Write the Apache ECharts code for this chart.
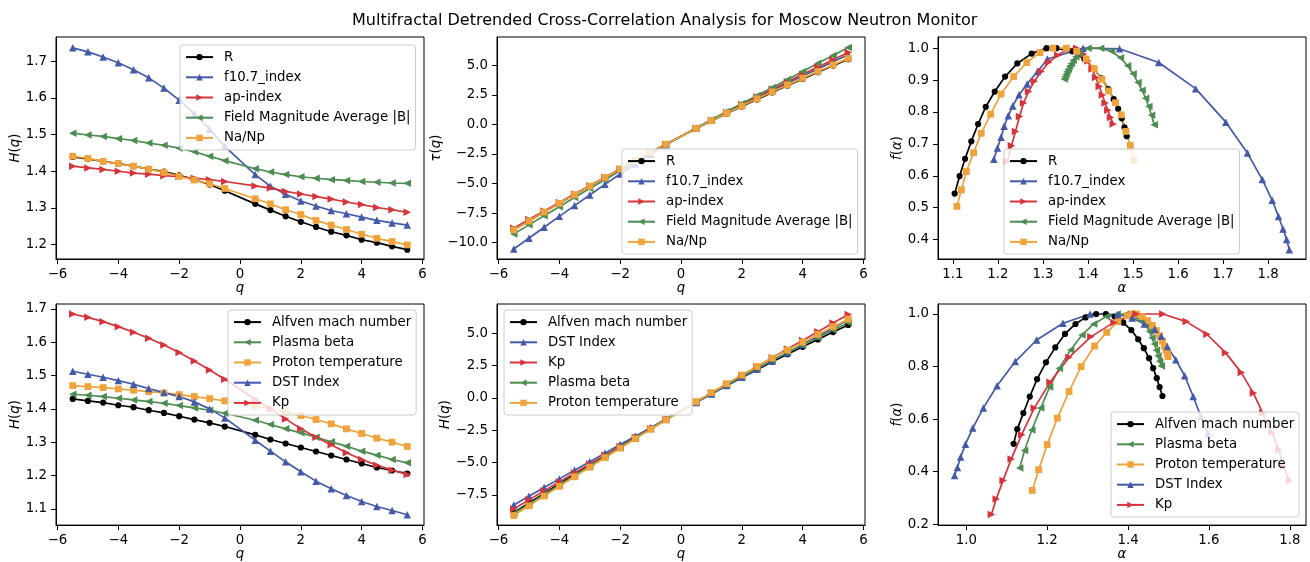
<!DOCTYPE html>
<html><head><meta charset="utf-8">
<script src="https://cdn.jsdelivr.net/npm/echarts@6/dist/echarts.min.js"></script>
<style>html,body{margin:0;padding:0;background:#fff}#c{width:1310px;height:562px}</style>
</head><body><div id="c"></div>
<script>
// ---------- DATA ----------
const q = [-5.5,-5,-4.5,-4,-3.5,-3,-2.5,-2,-1.5,-1,-0.5,0.5,1,1.5,2,2.5,3,3.5,4,4.5,5,5.5];

// Top-left: H(q)
const H_R      = [1.439,1.434,1.427,1.421,1.414,1.406,1.399,1.389,1.377,1.364,1.347,1.311,1.294,1.277,1.262,1.248,1.235,1.225,1.213,1.205,1.195,1.186];
const H_f107   = [1.737,1.726,1.712,1.696,1.677,1.655,1.627,1.594,1.557,1.515,1.468,1.391,1.359,1.337,1.319,1.305,1.293,1.284,1.275,1.266,1.259,1.253];
const H_ap     = [1.414,1.409,1.405,1.400,1.395,1.392,1.388,1.385,1.381,1.377,1.372,1.360,1.354,1.345,1.338,1.331,1.324,1.316,1.309,1.301,1.295,1.288];
const H_field  = [1.504,1.499,1.495,1.489,1.484,1.477,1.471,1.463,1.453,1.441,1.429,1.407,1.398,1.391,1.385,1.381,1.377,1.375,1.372,1.370,1.368,1.367];
const H_nanp   = [1.441,1.435,1.427,1.421,1.414,1.406,1.397,1.386,1.376,1.366,1.353,1.325,1.311,1.295,1.282,1.266,1.253,1.241,1.228,1.217,1.208,1.199];

// Top-middle: tau(q)
const T_R      = [-8.91,-8.17,-7.42,-6.68,-5.95,-5.22,-4.50,-3.78,-3.07,-2.36,-1.67,-0.34,0.29,0.92,1.52,2.12,2.71,3.29,3.85,4.42,4.98,5.52];
const T_f107   = [-10.54,-9.63,-8.70,-7.78,-6.87,-5.97,-5.07,-4.19,-3.34,-2.52,-1.73,-0.30,0.36,1.01,1.64,2.26,2.88,3.49,4.10,4.70,5.30,5.89];
const T_ap     = [-8.78,-8.05,-7.32,-6.60,-5.88,-5.18,-4.47,-3.77,-3.07,-2.38,-1.69,-0.32,0.35,1.02,1.68,2.33,2.97,3.61,4.24,4.85,5.48,6.08];
const T_field  = [-9.27,-8.50,-7.73,-6.96,-6.19,-5.43,-4.68,-3.93,-3.18,-2.44,-1.71,-0.30,0.40,1.09,1.77,2.45,3.13,3.81,4.49,5.17,5.84,6.52];
const T_nanp   = [-8.93,-8.18,-7.42,-6.68,-5.95,-5.22,-4.49,-3.77,-3.06,-2.37,-1.68,-0.34,0.31,0.94,1.56,2.17,2.76,3.34,3.91,4.48,5.04,5.59];

// Top-right: f(alpha) (points ordered from the left end to the right end)
const A_R      = [1.104,1.115,1.127,1.141,1.156,1.173,1.193,1.216,1.243,1.275,1.308,1.330,1.365,1.392,1.413,1.430,1.445,1.457,1.467,1.475,1.481,1.486];
const F_R      = [0.544,0.599,0.653,0.708,0.762,0.816,0.864,0.911,0.952,0.983,1.000,1.000,0.990,0.966,0.936,0.905,0.872,0.840,0.810,0.780,0.752,0.724];
const A_f107   = [1.191,1.199,1.207,1.214,1.223,1.233,1.247,1.265,1.288,1.310,1.389,1.470,1.557,1.639,1.706,1.754,1.787,1.809,1.823,1.833,1.841,1.847];
const F_f107   = [0.652,0.687,0.721,0.755,0.788,0.819,0.854,0.888,0.927,0.966,1.000,0.998,0.955,0.873,0.768,0.671,0.588,0.523,0.472,0.433,0.400,0.368];
const A_ap     = [1.221,1.230,1.239,1.248,1.257,1.268,1.281,1.296,1.313,1.333,1.355,1.375,1.390,1.400,1.409,1.417,1.425,1.432,1.438,1.444,1.450,1.456];
const F_ap     = [0.645,0.694,0.739,0.786,0.828,0.864,0.896,0.927,0.956,0.978,0.997,1.000,0.982,0.960,0.935,0.908,0.880,0.853,0.828,0.805,0.783,0.762];
const A_field  = [1.347,1.349,1.351,1.353,1.356,1.359,1.363,1.367,1.373,1.381,1.400,1.428,1.452,1.472,1.488,1.500,1.511,1.520,1.528,1.535,1.541,1.547];
const F_field  = [0.903,0.910,0.918,0.926,0.934,0.943,0.952,0.962,0.973,0.985,1.000,1.000,0.990,0.970,0.945,0.920,0.892,0.868,0.843,0.817,0.790,0.760];
const A_nanp   = [1.109,1.119,1.130,1.146,1.163,1.184,1.207,1.235,1.264,1.293,1.322,1.352,1.375,1.396,1.414,1.431,1.446,1.461,1.474,1.484,1.494,1.502];
const F_nanp   = [0.504,0.556,0.613,0.672,0.733,0.793,0.856,0.911,0.955,0.986,1.000,1.000,0.990,0.966,0.936,0.902,0.866,0.829,0.791,0.739,0.695,0.647];

// Bottom-left: H(q)
const H_alf    = [1.430,1.424,1.419,1.411,1.405,1.396,1.388,1.378,1.368,1.358,1.347,1.322,1.308,1.296,1.284,1.272,1.260,1.248,1.236,1.224,1.215,1.206];
const H_beta   = [1.444,1.441,1.437,1.432,1.427,1.422,1.417,1.410,1.403,1.396,1.387,1.366,1.353,1.340,1.328,1.315,1.301,1.288,1.273,1.261,1.248,1.238];
const H_temp   = [1.470,1.467,1.464,1.460,1.456,1.452,1.448,1.443,1.437,1.431,1.424,1.409,1.401,1.391,1.380,1.368,1.355,1.340,1.326,1.312,1.300,1.287];
const H_dst    = [1.513,1.504,1.495,1.485,1.474,1.461,1.449,1.437,1.421,1.400,1.373,1.306,1.273,1.241,1.211,1.183,1.160,1.140,1.122,1.107,1.095,1.082];
const H_kp     = [1.685,1.675,1.662,1.647,1.630,1.612,1.592,1.569,1.544,1.517,1.489,1.429,1.400,1.370,1.340,1.315,1.292,1.268,1.248,1.231,1.216,1.203];

// Bottom-middle: tau(q) (y axis labelled H(q) in the original)
const T_alf    = [-8.87,-8.12,-7.39,-6.64,-5.92,-5.19,-4.47,-3.76,-3.05,-2.36,-1.67,-0.34,0.31,0.94,1.57,2.18,2.78,3.37,3.94,4.51,5.08,5.63];
const T_dst    = [-8.27,-7.60,-6.93,-6.26,-5.59,-4.93,-4.27,-3.61,-2.96,-2.31,-1.66,-0.35,0.30,0.95,1.59,2.23,2.86,3.49,4.13,4.76,5.40,6.03];
const T_kp     = [-8.58,-7.88,-7.18,-6.49,-5.80,-5.11,-4.43,-3.75,-3.07,-2.39,-1.70,-0.31,0.37,1.05,1.73,2.41,3.09,3.77,4.44,5.11,5.78,6.44];
const T_beta   = [-8.94,-8.21,-7.47,-6.73,-5.99,-5.27,-4.54,-3.82,-3.10,-2.40,-1.69,-0.32,0.35,1.01,1.66,2.29,2.90,3.51,4.09,4.67,5.24,5.81];
const T_temp   = [-9.09,-8.34,-7.59,-6.84,-6.10,-5.36,-4.62,-3.89,-3.16,-2.43,-1.71,-0.30,0.40,1.09,1.76,2.42,3.07,3.69,4.30,4.90,5.50,6.08];

// Bottom-right: f(alpha)
const A_alf    = [1.117,1.126,1.141,1.157,1.175,1.197,1.220,1.244,1.270,1.295,1.321,1.345,1.367,1.388,1.408,1.425,1.439,1.452,1.462,1.471,1.478,1.485];
const F_alf    = [0.506,0.562,0.623,0.686,0.752,0.816,0.873,0.924,0.962,0.987,1.000,1.000,0.990,0.967,0.939,0.904,0.870,0.832,0.794,0.756,0.722,0.688];
const A_beta   = [1.132,1.144,1.162,1.184,1.206,1.230,1.258,1.286,1.315,1.346,1.373,1.395,1.415,1.432,1.445,1.453,1.459,1.465,1.470,1.474,1.478,1.482];
const F_beta   = [0.414,0.481,0.559,0.642,0.722,0.794,0.863,0.920,0.962,0.990,1.000,1.000,0.992,0.975,0.955,0.933,0.910,0.886,0.862,0.840,0.820,0.802];
const A_temp   = [1.163,1.179,1.200,1.225,1.254,1.284,1.317,1.347,1.375,1.398,1.410,1.421,1.435,1.448,1.460,1.470,1.478,1.485,1.490,1.494,1.497,1.499];
const F_temp   = [0.329,0.408,0.503,0.604,0.705,0.800,0.878,0.930,0.971,0.993,1.000,1.000,0.990,0.975,0.957,0.937,0.917,0.897,0.877,0.862,0.850,0.838];
const A_dst    = [0.971,0.978,0.986,0.998,1.016,1.042,1.076,1.121,1.174,1.239,1.306,1.375,1.410,1.440,1.466,1.482,1.497,1.518,1.540,1.561,1.580,1.598];
const F_dst    = [0.386,0.416,0.456,0.505,0.566,0.642,0.727,0.819,0.901,0.965,1.000,0.998,0.985,0.962,0.942,0.915,0.876,0.826,0.765,0.686,0.610,0.545];
const A_kp     = [1.062,1.074,1.091,1.111,1.137,1.168,1.207,1.254,1.308,1.365,1.420,1.486,1.544,1.595,1.641,1.680,1.710,1.733,1.756,1.773,1.784,1.799];
const F_kp     = [0.237,0.296,0.367,0.448,0.541,0.642,0.740,0.835,0.913,0.968,1.000,1.000,0.971,0.923,0.853,0.777,0.699,0.623,0.549,0.484,0.420,0.366];

// Tick labels
const qTicks      = [-6,-4,-2,0,2,4,6];
const tlYTicks    = [1.2,1.3,1.4,1.5,1.6,1.7];
const tauTicksTop = [-10,-7.5,-5,-2.5,0,2.5,5];
const trXTicks    = [1.1,1.2,1.3,1.4,1.5,1.6,1.7,1.8];
const trYTicks    = [0.4,0.5,0.6,0.7,0.8,0.9,1.0];
const blYTicks    = [1.1,1.2,1.3,1.4,1.5,1.6,1.7];
const tauTicksBot = [-7.5,-5,-2.5,0,2.5,5];
const brXTicks    = [1.0,1.2,1.4,1.6,1.8];
const brYTicks    = [0.2,0.4,0.6,0.8,1.0];

// ---------- STYLE ----------
const FONT = 'DejaVu Sans';
const COL = {black:'#000000', blue:'#4359a9', red:'#d6333a', green:'#4d8c51', orange:'#efa33a'};
const SYM = {circle:'circle', up:'triangle', right:'path://M0,0L10,5L0,10Z', left:'path://M10,0L0,5L10,10Z', square:'rect'};
const SIZE = {circle:6.2, up:7.5, right:7.5, left:7.5, square:6.8};

function fmt(v, d){ const s = Math.abs(v).toFixed(d); return (v < -1e-9 ? '\u2212' : '') + s; }

const option = {
  backgroundColor:'#ffffff', animation:false,
  title:{text:'Multifractal Detrended Cross-Correlation Analysis for Moscow Neutron Monitor', left:347, top:8,
    textStyle:{fontFamily:FONT, fontSize:16, fontWeight:'normal', color:'#000'}},
  grid:[], xAxis:[], yAxis:[], series:[], legend:[]
};

function panel(p){
  const gi = option.grid.length;
  option.grid.push({left:p.box[0], top:p.box[1], width:p.box[2], height:p.box[3], show:true, borderColor:'#000', borderWidth:1, backgroundColor:'rgba(0,0,0,0)', containLabel:false});
  const nameStyle = {fontFamily:FONT, fontSize:13.3, color:'#000', rich:{i:{fontFamily:FONT, fontSize:13.3, fontStyle:'italic', color:'#000'}}};
  const axisCommon = (ticks, dec) => ({
    type:'value', gridIndex:gi, scale:true,
    axisLine:{show:true, onZero:false, lineStyle:{color:'#000', width:1}},
    axisTick:{show:true, inside:false, length:5, customValues:ticks, lineStyle:{color:'#000', width:1}},
    axisLabel:{show:true, margin:9, customValues:ticks, color:'#000', fontFamily:FONT, fontSize:13.3, formatter:v=>fmt(v,dec), hideOverlap:false},
    splitLine:{show:false}, minorTick:{show:false}
  });
  const xa = axisCommon(p.xt, p.xd);
  Object.assign(xa, {min:p.xr[0], max:p.xr[1], name:p.xname, nameLocation:'middle', nameGap:p.xgap, nameTextStyle:nameStyle});
  const ya = axisCommon(p.yt, p.yd);
  Object.assign(ya, {min:p.yr[0], max:p.yr[1], name:p.yname, nameLocation:'middle', nameGap:p.ygap, nameRotate:90, nameTextStyle:nameStyle});
  option.xAxis.push(xa); option.yAxis.push(ya);
  const names = [];
  p.list.forEach(s => {
    names.push(s.name);
    option.series.push({
      type:'line', name:s.name, xAxisIndex:gi, yAxisIndex:gi,
      data:s.x.map((x,i)=>[x, s.y[i]]),
      symbol:SYM[s.sym], symbolSize:SIZE[s.sym], showSymbol:true, showAllSymbol:true,
      lineStyle:{color:COL[s.c], width:1.7}, itemStyle:{color:COL[s.c], borderWidth:0},
      emphasis:{disabled:true}, silent:true, clip:true, z:2
    });
  });
  option.legend.push({
    left:p.leg[0], top:p.leg[1], orient:'vertical', padding:[4,5,4,5], itemGap:4, itemWidth:27, itemHeight:8,
    backgroundColor:'rgba(255,255,255,0.8)', borderColor:'#cccccc', borderWidth:1, borderRadius:3,
    textStyle:{fontFamily:FONT, fontSize:13.3, color:'#000', lineHeight:16.2, padding:[0,0,0,6]},
    selectedMode:false, data:names, z:5
  });
}

const topNames = {R:'R', f:'f10.7_index', ap:'ap-index', fld:'Field Magnitude Average |B|', na:'Na/Np'};
const botNames = {alf:'Alfven mach number', beta:'Plasma beta', temp:'Proton temperature', dst:'DST Index', kp:'Kp'};

// Top-left
panel({box:[56,37,368,222], xr:[-6.05,6.05], yr:[1.1605,1.7665], xt:qTicks, yt:tlYTicks, xd:0, yd:1,
  xname:'{i|q}', yname:'{i|H}({i|q})', xgap:19, ygap:31, leg:[180,45],
  list:[
    {name:topNames.R, c:'black', sym:'circle', x:q, y:H_R},
    {name:topNames.f, c:'blue', sym:'up', x:q, y:H_f107},
    {name:topNames.ap, c:'red', sym:'right', x:q, y:H_ap},
    {name:topNames.fld, c:'green', sym:'left', x:q, y:H_field},
    {name:topNames.na, c:'orange', sym:'square', x:q, y:H_nanp}
  ]});
// Top-middle
panel({box:[497,37,368,222], xr:[-6.05,6.05], yr:[-11.39,7.40], xt:qTicks, yt:tauTicksTop, xd:0, yd:1,
  xname:'{i|q}', yname:'{i|τ}({i|q})', xgap:19, ygap:50, leg:[622,149],
  list:[
    {name:topNames.R, c:'black', sym:'circle', x:q, y:T_R},
    {name:topNames.f, c:'blue', sym:'up', x:q, y:T_f107},
    {name:topNames.ap, c:'red', sym:'right', x:q, y:T_ap},
    {name:topNames.fld, c:'green', sym:'left', x:q, y:T_field},
    {name:topNames.na, c:'orange', sym:'square', x:q, y:T_nanp}
  ]});
// Top-right
panel({box:[938,37,368,222], xr:[1.067,1.884], yr:[0.339,1.035], xt:trXTicks, yt:trYTicks, xd:1, yd:1,
  xname:'{i|α}', yname:'{i|f}({i|α})', xgap:19, ygap:31, leg:[1004,149],
  list:[
    {name:topNames.R, c:'black', sym:'circle', x:A_R, y:F_R},
    {name:topNames.f, c:'blue', sym:'up', x:A_f107, y:F_f107},
    {name:topNames.ap, c:'red', sym:'right', x:A_ap, y:F_ap},
    {name:topNames.fld, c:'green', sym:'left', x:A_field, y:F_field},
    {name:topNames.na, c:'orange', sym:'square', x:A_nanp, y:F_nanp}
  ]});
// Bottom-left
panel({box:[56,304,368,221.5], xr:[-6.05,6.05], yr:[1.051,1.715], xt:qTicks, yt:blYTicks, xd:0, yd:1,
  xname:'{i|q}', yname:'{i|H}({i|q})', xgap:19, ygap:31, leg:[228,310],
  list:[
    {name:botNames.alf, c:'black', sym:'circle', x:q, y:H_alf},
    {name:botNames.beta, c:'green', sym:'left', x:q, y:H_beta},
    {name:botNames.temp, c:'orange', sym:'square', x:q, y:H_temp},
    {name:botNames.dst, c:'blue', sym:'up', x:q, y:H_dst},
    {name:botNames.kp, c:'red', sym:'right', x:q, y:H_kp}
  ]});
// Bottom-middle
panel({box:[497,304,368,221.5], xr:[-6.05,6.05], yr:[-9.83,7.25], xt:qTicks, yt:tauTicksBot, xd:0, yd:1,
  xname:'{i|q}', yname:'{i|H}({i|q})', xgap:19, ygap:43, leg:[504,310],
  list:[
    {name:botNames.alf, c:'black', sym:'circle', x:q, y:T_alf},
    {name:botNames.dst, c:'blue', sym:'up', x:q, y:T_dst},
    {name:botNames.kp, c:'red', sym:'right', x:q, y:T_kp},
    {name:botNames.beta, c:'green', sym:'left', x:q, y:T_beta},
    {name:botNames.temp, c:'orange', sym:'square', x:q, y:T_temp}
  ]});
// Bottom-right
panel({box:[938,304,368,221.5], xr:[0.930,1.840], yr:[0.197,1.038], xt:brXTicks, yt:brYTicks, xd:1, yd:1,
  xname:'{i|α}', yname:'{i|f}({i|α})', xgap:19, ygap:31, leg:[1111,412],
  list:[
    {name:botNames.alf, c:'black', sym:'circle', x:A_alf, y:F_alf},
    {name:botNames.beta, c:'green', sym:'left', x:A_beta, y:F_beta},
    {name:botNames.temp, c:'orange', sym:'square', x:A_temp, y:F_temp},
    {name:botNames.dst, c:'blue', sym:'up', x:A_dst, y:F_dst},
    {name:botNames.kp, c:'red', sym:'right', x:A_kp, y:F_kp}
  ]});

const chart = echarts.init(document.getElementById('c'), null, {renderer:'canvas'});
chart.setOption(option);
</script></body></html>
